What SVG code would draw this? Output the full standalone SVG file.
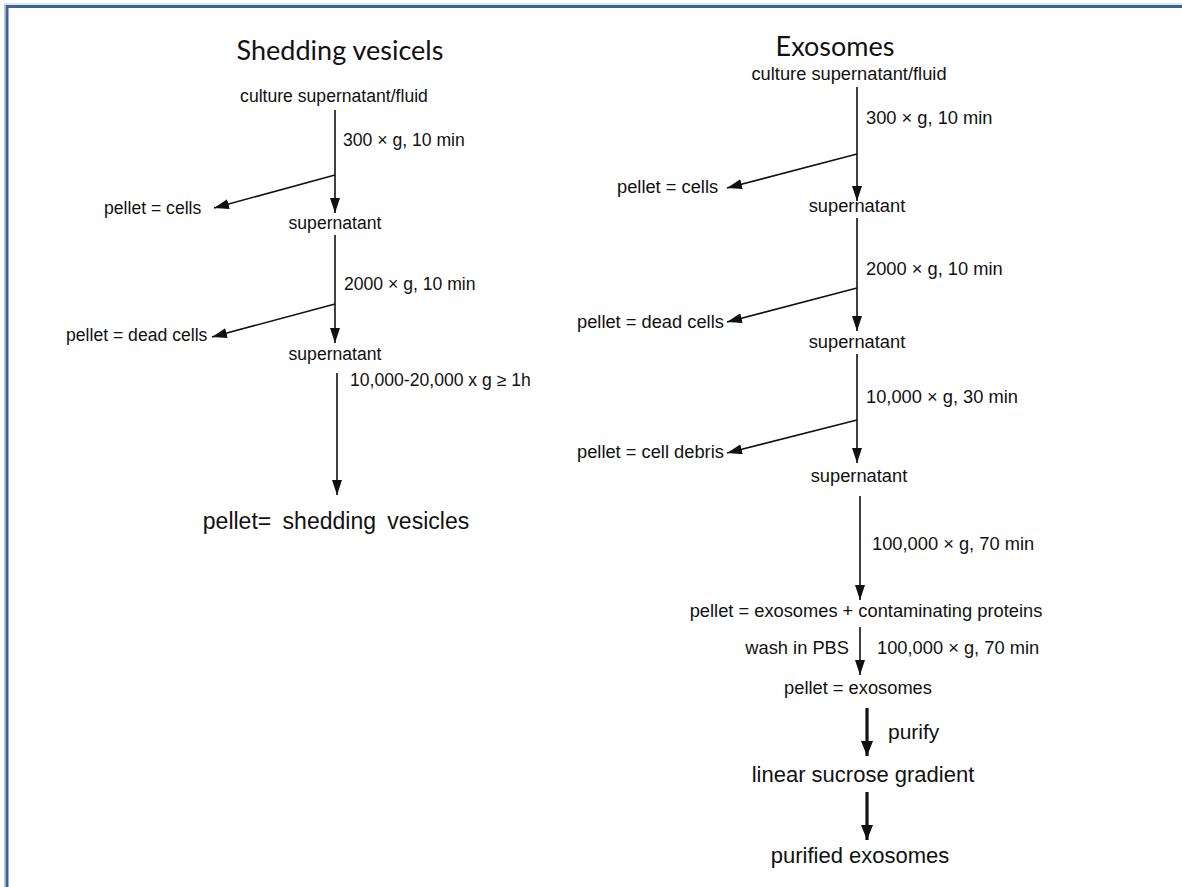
<svg xmlns="http://www.w3.org/2000/svg" width="1182" height="887" viewBox="0 0 1182 887">
<style>
.t{font-family:"Liberation Sans",Arial,sans-serif;font-size:17.6px;fill:#111}
.r{font-size:18.3px}
.c{text-anchor:middle}
.title{font-family:Lato,"Open Sans",sans-serif;font-size:27px;fill:#111;text-anchor:middle}
.big{font-family:"Liberation Sans",Arial,sans-serif;font-size:22px;fill:#111}
.ln{stroke:#111;stroke-width:1.6;fill:none}
.lnb{stroke:#111;stroke-width:3.2;fill:none}
</style>
<defs>
<marker id="ah" markerUnits="userSpaceOnUse" markerWidth="16" markerHeight="12" refX="15" refY="5" orient="auto">
<path d="M0,0 L15,5 L0,10 Z" fill="#111"/>
</marker>
<marker id="ahb" markerUnits="userSpaceOnUse" markerWidth="16" markerHeight="14" refX="15" refY="6" orient="auto">
<path d="M0,0 L15,6 L0,12 Z" fill="#111"/>
</marker>
</defs>
<rect x="0" y="0" width="1182" height="887" fill="#fff"/>
<rect x="4.5" y="4" width="1300" height="1000" fill="none" stroke="#b8c8dc" stroke-width="1"/>
<rect x="7" y="6.5" width="1300" height="1000" fill="none" stroke="#3c6392" stroke-width="3"/>

<g id="connectors">
<line class="ln" x1="335" y1="110" x2="335" y2="213" marker-end="url(#ah)"/>
<line class="ln" x1="335" y1="175" x2="214" y2="208" marker-end="url(#ah)"/>
<line class="ln" x1="335" y1="235" x2="335" y2="343" marker-end="url(#ah)"/>
<line class="ln" x1="335" y1="304" x2="212" y2="337" marker-end="url(#ah)"/>
<line class="ln" x1="337" y1="373" x2="337" y2="495" marker-end="url(#ah)"/>

<line class="ln" x1="857" y1="87" x2="857" y2="201" marker-end="url(#ah)"/>
<line class="ln" x1="857" y1="154" x2="727" y2="188" marker-end="url(#ah)"/>
<line class="ln" x1="857" y1="218" x2="857" y2="331" marker-end="url(#ah)"/>
<line class="ln" x1="857" y1="288" x2="727" y2="322" marker-end="url(#ah)"/>
<line class="ln" x1="857" y1="354" x2="857" y2="463" marker-end="url(#ah)"/>
<line class="ln" x1="857" y1="420" x2="727" y2="453" marker-end="url(#ah)"/>
<line class="ln" x1="860" y1="496" x2="860" y2="600" marker-end="url(#ah)"/>
<line class="ln" x1="860" y1="627" x2="860" y2="675" marker-end="url(#ah)"/>
<line class="lnb" x1="867" y1="708" x2="867" y2="756" marker-end="url(#ahb)"/>
<line class="lnb" x1="867" y1="792" x2="867" y2="840" marker-end="url(#ahb)"/>
</g>

<g id="left-title"><text class="title" x="340" y="60">Shedding vesicels</text></g>
<g id="l-culture"><text class="t c" x="334" y="102">culture supernatant/fluid</text></g>
<g id="l-step1"><text class="t" x="343" y="146">300 × g, 10 min</text></g>
<g id="l-pellet-cells"><text class="t" x="104" y="214">pellet = cells</text></g>
<g id="l-super1"><text class="t c" x="335" y="229">supernatant</text></g>
<g id="l-step2"><text class="t" x="344" y="290">2000 × g, 10 min</text></g>
<g id="l-pellet-dead"><text class="t" x="66" y="341">pellet = dead cells</text></g>
<g id="l-super2"><text class="t c" x="335" y="360">supernatant</text></g>
<g id="l-step3"><text class="t" x="350" y="386">10,000-20,000 x g ≥ 1h</text></g>
<g id="l-result"><text class="big c" x="336" y="529" style="font-size:23px;word-spacing:5px">pellet= shedding vesicles</text></g>

<g id="right-title"><text class="title" x="835" y="56">Exosomes</text></g>
<g id="r-culture"><text class="t r c" x="849" y="80">culture supernatant/fluid</text></g>
<g id="r-step1"><text class="t r" x="866" y="124">300 × g, 10 min</text></g>
<g id="r-pellet-cells"><text class="t r" x="617" y="193">pellet = cells</text></g>
<g id="r-super1"><text class="t r c" x="857" y="212">supernatant</text></g>
<g id="r-step2"><text class="t r" x="866" y="275">2000 × g, 10 min</text></g>
<g id="r-pellet-dead"><text class="t r" x="577" y="328">pellet = dead cells</text></g>
<g id="r-super2"><text class="t r c" x="857" y="348">supernatant</text></g>
<g id="r-step3"><text class="t r" x="866" y="403">10,000 × g, 30 min</text></g>
<g id="r-pellet-debris"><text class="t r" x="577" y="458">pellet = cell debris</text></g>
<g id="r-super3"><text class="t r c" x="859" y="482">supernatant</text></g>
<g id="r-step4"><text class="t r" x="872" y="550">100,000 × g, 70 min</text></g>
<g id="r-pellet-exo-prot"><text class="t r c" x="866" y="617">pellet = exosomes + contaminating proteins</text></g>
<g id="r-wash"><text class="t r" x="849" y="654" text-anchor="end">wash in PBS</text></g>
<g id="r-step5"><text class="t r" x="877" y="654">100,000 × g, 70 min</text></g>
<g id="r-pellet-exo"><text class="t r c" x="858" y="694">pellet = exosomes</text></g>
<g id="r-purify"><text class="big" x="888" y="739" style="font-size:21px">purify</text></g>
<g id="r-gradient"><text class="big c" x="863" y="782">linear sucrose gradient</text></g>
<g id="r-purified"><text class="big c" x="860" y="863">purified exosomes</text></g>
</svg>
